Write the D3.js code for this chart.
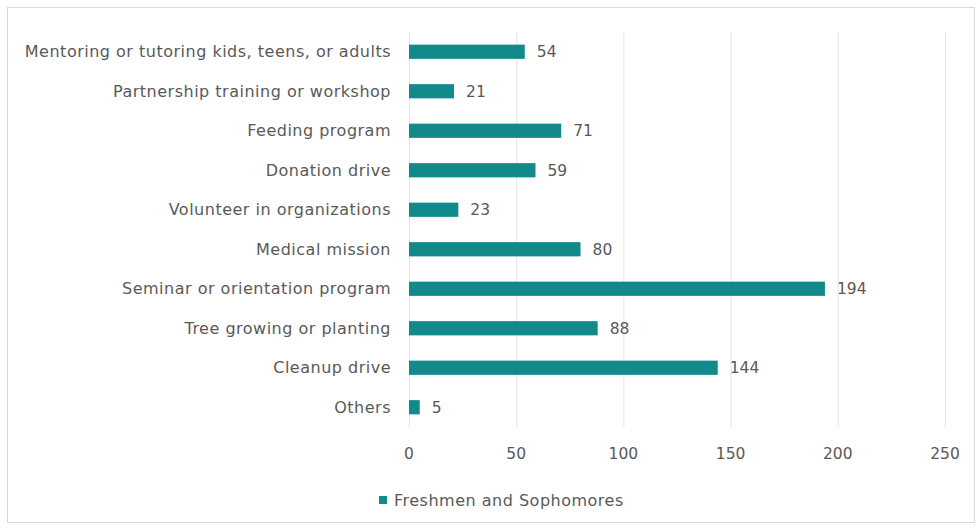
<!DOCTYPE html>
<html>
<head>
<meta charset="utf-8">
<script src="https://cdn.jsdelivr.net/npm/d3@7"></script>
<style>
body { margin: 0; background: #fff; }
svg text { font-family: "DejaVu Sans", sans-serif; fill: #595959; }
</style>
</head>
<body>
<svg id="chart" width="978" height="529"></svg>
<script>
var categories = [
    'Mentoring or tutoring kids, teens, or adults',
    'Partnership training or workshop',
    'Feeding program',
    'Donation drive',
    'Volunteer in organizations',
    'Medical mission',
    'Seminar or orientation program',
    'Tree growing or planting',
    'Cleanup drive',
    'Others'
];
var values = [54, 21, 71, 59, 23, 80, 194, 88, 144, 5];
var xTicks = [0, 50, 100, 150, 200, 250];
var seriesName = 'Freshmen and Sophomores';

var barColor = '#12898a';
var svg = d3.select('#chart');

// outer frame
svg.append('rect')
    .attr('x', 7.5)
    .attr('y', 7.5)
    .attr('width', 967)
    .attr('height', 515)
    .attr('fill', '#fff')
    .attr('stroke', '#d9d9d9');

var x = d3.scaleLinear().domain([0, 250]).range([409, 945]);
var y = d3.scaleBand().domain(categories).range([32, 427]).paddingInner(0.64).paddingOuter(0.32);

// grid
svg.append('g').selectAll('line')
    .data(xTicks)
    .enter().append('line')
        .attr('x1', function(d) { return x(d) + 0.5; })
        .attr('x2', function(d) { return x(d) + 0.5; })
        .attr('y1', 32)
        .attr('y2', 427)
        .attr('stroke', '#e3e3e3');

// x tick labels
svg.append('g').selectAll('text')
    .data(xTicks)
    .enter().append('text')
        .attr('x', function(d) { return x(d); })
        .attr('y', 454)
        .attr('dy', '0.35em')
        .attr('text-anchor', 'middle')
        .style('font-size', '15.5px')
        .text(function(d) { return d; });

// category labels
svg.append('g').selectAll('text')
    .data(categories)
    .enter().append('text')
        .attr('x', 391)
        .attr('y', function(d) { return y(d) + y.bandwidth() / 2; })
        .attr('dy', '0.35em')
        .attr('text-anchor', 'end')
        .style('font-size', '16px')
        .style('letter-spacing', '0.5px')
        .text(function(d) { return d; });

// bars
var rows = svg.append('g').selectAll('g')
    .data(categories)
    .enter().append('g');

rows.append('rect')
    .attr('x', x(0))
    .attr('y', function(d) { return y(d); })
    .attr('width', function(d, i) { return x(values[i]) - x(0); })
    .attr('height', y.bandwidth())
    .attr('fill', barColor);

rows.append('text')
    .attr('x', function(d, i) { return x(values[i]) + 12; })
    .attr('y', function(d) { return y(d) + y.bandwidth() / 2; })
    .attr('dy', '0.35em')
    .style('font-size', '15.5px')
    .text(function(d, i) { return values[i]; });

// legend
svg.append('rect')
    .attr('x', 379)
    .attr('y', 496)
    .attr('width', 8)
    .attr('height', 8)
    .attr('fill', barColor);
svg.append('text')
    .attr('x', 394)
    .attr('y', 500)
    .attr('dy', '0.35em')
    .style('font-size', '16px')
    .style('letter-spacing', '0.5px')
    .text(seriesName);
</script>
</body>
</html>
